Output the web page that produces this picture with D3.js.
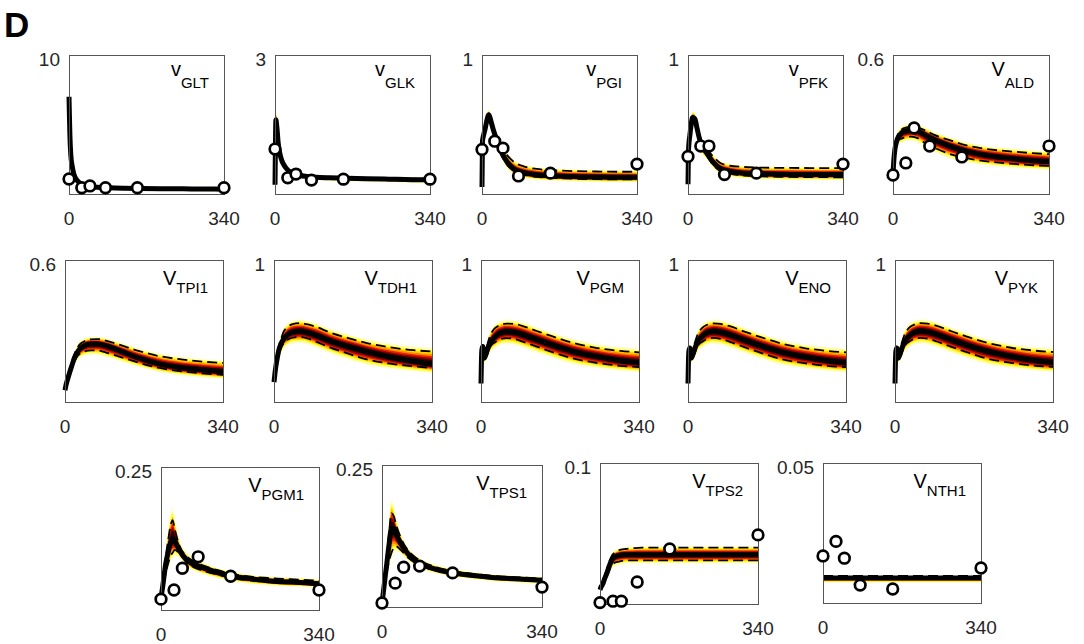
<!DOCTYPE html>
<html><head><meta charset="utf-8">
<script src="https://cdn.jsdelivr.net/npm/d3@7"></script>
<style>body{margin:0;background:#fff}svg{display:block}text{font-family:"Liberation Sans",Arial,sans-serif}</style>
</head><body><svg id="c" width="1084" height="644"></svg>
<script>
// ---------- DATA ----------
const simT = [0,1,2,4,7,10,15,20,25,30,40,55,70,90,120,160,200,250,300,340];
const obsT = [0,28,46,80,150,340];
const xTickLabels = ["0","340"];
const panelNames = ["GLT","GLK","PGI","PFK","ALD","TPI1","TDH1","PGM","ENO","PYK","PGM1","TPS1","TPS2","NTH1"];
const panelPrefix = ["v","v","v","v","V","V","V","V","V","V","V","V","V","V"];
const yTopVals = [10,3,1,1,0.6,0.6,1,1,1,1,0.25,0.25,0.1,0.05];
const yTopLabels = ["10","3","1","1","0.6","0.6","1","1","1","1","0.25","0.25","0.1","0.05"];

// GLT
const medGLT = [7.0,5.5,4.2,2.8,2.0,1.5,1.1,0.9,0.75,0.65,0.55,0.5,0.47,0.45,0.42,0.4,0.38,0.37,0.36,0.35];
const hiGLT  = [7.2,5.8,4.5,3.0,2.2,1.65,1.2,1.0,0.85,0.75,0.65,0.58,0.54,0.5,0.47,0.45,0.43,0.42,0.41,0.4];
const loGLT  = [6.8,5.2,3.9,2.6,1.8,1.35,1.0,0.8,0.65,0.55,0.45,0.4,0.36,0.33,0.3,0.27,0.24,0.22,0.2,0.18];
const dHiGLT = [7.0,5.6,4.3,2.9,2.05,1.55,1.13,0.93,0.78,0.68,0.58,0.52,0.49,0.47,0.44,0.42,0.4,0.39,0.38,0.37];
const dLoGLT = [7.0,5.4,4.1,2.7,1.95,1.45,1.07,0.87,0.72,0.62,0.52,0.47,0.44,0.42,0.39,0.37,0.35,0.34,0.33,0.32];
const obsGLT = [1.08,0.45,0.58,0.45,0.45,0.45];
// GLK
const medGLK = [0.2,1.1,1.6,1.45,1.1,0.9,0.72,0.62,0.55,0.5,0.44,0.4,0.38,0.36,0.35,0.34,0.33,0.32,0.31,0.31];
const hiGLK  = [0.25,1.2,1.77,1.6,1.2,0.98,0.78,0.67,0.6,0.55,0.48,0.44,0.42,0.4,0.38,0.37,0.36,0.35,0.35,0.35];
const loGLK  = [0.15,1.0,1.45,1.3,1.0,0.82,0.65,0.56,0.49,0.44,0.39,0.35,0.33,0.31,0.29,0.28,0.27,0.26,0.25,0.24];
const dHiGLK = [0.2,1.12,1.63,1.48,1.13,0.93,0.75,0.65,0.57,0.52,0.46,0.42,0.4,0.38,0.37,0.36,0.35,0.34,0.33,0.33];
const dLoGLK = [0.2,1.08,1.57,1.42,1.07,0.87,0.69,0.59,0.53,0.48,0.42,0.38,0.36,0.34,0.33,0.32,0.31,0.3,0.29,0.29];
const obsGLK = [0.97,0.35,0.43,0.30,0.32,0.32];
// PGI
const medPGI = [0.05,0.38,0.4,0.43,0.47,0.52,0.57,0.52,0.46,0.41,0.32,0.23,0.18,0.155,0.138,0.13,0.125,0.122,0.12,0.12];
const hiPGI  = [0.06,0.4,0.43,0.47,0.52,0.57,0.6,0.56,0.5,0.45,0.37,0.29,0.24,0.21,0.19,0.18,0.175,0.17,0.168,0.167];
const loPGI  = [0.04,0.35,0.37,0.4,0.43,0.47,0.52,0.47,0.41,0.36,0.28,0.19,0.145,0.12,0.105,0.097,0.093,0.09,0.088,0.087];
const dHiPGI = [0.05,0.38,0.41,0.44,0.49,0.54,0.58,0.54,0.48,0.43,0.35,0.28,0.23,0.2,0.18,0.17,0.165,0.162,0.16,0.16];
const dLoPGI = [0.05,0.37,0.39,0.42,0.46,0.5,0.55,0.5,0.44,0.39,0.3,0.21,0.165,0.14,0.123,0.115,0.11,0.107,0.105,0.105];
const obsPGI = [0.32,0.38,0.33,0.13,0.15,0.215];
// PFK
const medPFK = [0.07,0.3,0.36,0.42,0.5,0.55,0.54,0.47,0.4,0.35,0.3,0.23,0.185,0.165,0.15,0.145,0.142,0.14,0.14,0.14];
const hiPFK  = [0.08,0.33,0.39,0.46,0.54,0.59,0.58,0.52,0.45,0.4,0.35,0.28,0.235,0.215,0.2,0.195,0.193,0.192,0.19,0.19];
const loPFK  = [0.06,0.27,0.33,0.38,0.46,0.5,0.49,0.42,0.35,0.3,0.26,0.19,0.15,0.13,0.117,0.11,0.106,0.104,0.103,0.102];
const dHiPFK = [0.07,0.3,0.37,0.43,0.51,0.56,0.56,0.5,0.43,0.38,0.33,0.27,0.225,0.205,0.195,0.19,0.188,0.187,0.186,0.186];
const dLoPFK = [0.07,0.3,0.35,0.41,0.49,0.54,0.52,0.45,0.38,0.33,0.28,0.21,0.167,0.148,0.133,0.127,0.124,0.122,0.121,0.12];
const obsPFK = [0.27,0.345,0.345,0.14,0.15,0.215];
// ALD
const medALD = [0.09,0.12,0.15,0.19,0.22,0.24,0.255,0.265,0.27,0.272,0.275,0.27,0.255,0.235,0.21,0.185,0.168,0.155,0.145,0.14];
const hiALD  = [0.1,0.135,0.17,0.21,0.245,0.265,0.28,0.29,0.295,0.298,0.3,0.295,0.285,0.265,0.245,0.22,0.205,0.195,0.187,0.182];
const loALD  = [0.08,0.1,0.125,0.165,0.195,0.21,0.222,0.225,0.229,0.232,0.233,0.225,0.205,0.185,0.16,0.14,0.127,0.117,0.11,0.106];
const dHiALD = [0.09,0.125,0.16,0.2,0.235,0.255,0.27,0.28,0.285,0.288,0.29,0.285,0.275,0.255,0.235,0.21,0.195,0.185,0.177,0.172];
const dLoALD = [0.09,0.115,0.14,0.18,0.21,0.225,0.237,0.24,0.244,0.247,0.248,0.24,0.22,0.2,0.175,0.155,0.142,0.132,0.125,0.121];
const obsALD = [0.082,0.134,0.285,0.207,0.16,0.207];
// TPI1
const medTPI1 = [0.05,0.06,0.07,0.085,0.105,0.125,0.155,0.185,0.205,0.22,0.236,0.245,0.245,0.237,0.215,0.185,0.162,0.145,0.135,0.128];
const hiTPI1  = [0.055,0.066,0.078,0.095,0.12,0.142,0.178,0.208,0.232,0.25,0.264,0.273,0.274,0.266,0.248,0.223,0.203,0.188,0.178,0.173];
const loTPI1  = [0.045,0.052,0.06,0.072,0.088,0.105,0.13,0.157,0.174,0.186,0.197,0.203,0.202,0.192,0.174,0.15,0.13,0.115,0.105,0.1];
const dHiTPI1 = [0.05,0.062,0.074,0.09,0.113,0.135,0.17,0.2,0.223,0.24,0.255,0.265,0.266,0.258,0.24,0.215,0.195,0.18,0.17,0.165];
const dLoTPI1 = [0.05,0.058,0.066,0.08,0.098,0.115,0.142,0.17,0.188,0.2,0.212,0.218,0.218,0.208,0.19,0.165,0.145,0.13,0.12,0.115];
// TDH1
const medTDH1 = [0.14,0.17,0.2,0.25,0.31,0.36,0.41,0.44,0.46,0.475,0.492,0.498,0.49,0.47,0.43,0.39,0.355,0.315,0.285,0.265];
const hiTDH1  = [0.15,0.185,0.225,0.28,0.345,0.4,0.46,0.51,0.535,0.55,0.567,0.574,0.567,0.55,0.51,0.47,0.435,0.405,0.385,0.375];
const loTDH1  = [0.13,0.15,0.17,0.21,0.26,0.3,0.345,0.375,0.395,0.405,0.418,0.422,0.414,0.39,0.35,0.305,0.268,0.24,0.222,0.21];
const dHiTDH1 = [0.14,0.175,0.21,0.265,0.33,0.385,0.44,0.49,0.515,0.53,0.548,0.555,0.548,0.53,0.49,0.45,0.415,0.385,0.365,0.356];
const dLoTDH1 = [0.14,0.165,0.19,0.235,0.29,0.335,0.38,0.41,0.43,0.44,0.453,0.457,0.45,0.425,0.385,0.34,0.3,0.27,0.252,0.24];
// PGM
const medPGM = [0.13,0.3,0.37,0.39,0.31,0.33,0.38,0.42,0.44,0.46,0.485,0.497,0.492,0.475,0.44,0.395,0.355,0.32,0.29,0.275];
const hiPGM  = [0.14,0.32,0.39,0.41,0.34,0.37,0.44,0.49,0.52,0.54,0.56,0.572,0.57,0.555,0.52,0.475,0.435,0.4,0.38,0.37];
const loPGM  = [0.12,0.28,0.35,0.37,0.28,0.29,0.32,0.355,0.375,0.385,0.405,0.415,0.41,0.39,0.355,0.31,0.272,0.245,0.225,0.215];
const dHiPGM = [0.13,0.31,0.38,0.4,0.32,0.35,0.42,0.47,0.5,0.52,0.54,0.552,0.55,0.535,0.5,0.455,0.415,0.38,0.36,0.35];
const dLoPGM = [0.13,0.29,0.36,0.38,0.3,0.31,0.35,0.39,0.41,0.42,0.44,0.45,0.445,0.425,0.39,0.345,0.305,0.275,0.255,0.246];
// ENO
const medENO = [0.13,0.29,0.36,0.38,0.31,0.33,0.38,0.42,0.445,0.462,0.487,0.498,0.492,0.474,0.438,0.393,0.353,0.318,0.29,0.274];
const hiENO  = [0.14,0.31,0.38,0.4,0.34,0.37,0.44,0.49,0.52,0.54,0.562,0.573,0.57,0.554,0.518,0.473,0.433,0.4,0.38,0.37];
const loENO  = [0.12,0.27,0.34,0.36,0.28,0.29,0.32,0.355,0.378,0.388,0.407,0.416,0.41,0.39,0.353,0.308,0.27,0.243,0.224,0.214];
const dHiENO = [0.13,0.3,0.37,0.39,0.32,0.35,0.42,0.47,0.5,0.52,0.542,0.553,0.55,0.534,0.498,0.453,0.413,0.38,0.36,0.35];
const dLoENO = [0.13,0.28,0.35,0.37,0.3,0.31,0.35,0.39,0.412,0.422,0.442,0.451,0.445,0.424,0.388,0.343,0.303,0.274,0.254,0.245];
// PYK
const medPYK = [0.13,0.29,0.36,0.38,0.31,0.33,0.38,0.42,0.445,0.463,0.488,0.5,0.494,0.476,0.44,0.395,0.356,0.32,0.292,0.276];
const hiPYK  = [0.14,0.31,0.38,0.4,0.34,0.37,0.44,0.49,0.52,0.542,0.563,0.575,0.572,0.556,0.52,0.475,0.436,0.402,0.382,0.372];
const loPYK  = [0.12,0.27,0.34,0.36,0.28,0.29,0.32,0.355,0.378,0.39,0.408,0.418,0.412,0.392,0.355,0.31,0.272,0.245,0.226,0.216];
const dHiPYK = [0.13,0.3,0.37,0.39,0.32,0.35,0.42,0.47,0.5,0.522,0.543,0.555,0.552,0.536,0.5,0.455,0.416,0.382,0.362,0.352];
const dLoPYK = [0.13,0.28,0.35,0.37,0.3,0.31,0.35,0.39,0.412,0.424,0.443,0.452,0.447,0.426,0.39,0.345,0.305,0.276,0.256,0.247];
// PGM1
const medPGM1 = [0.02,0.026,0.032,0.043,0.062,0.08,0.1,0.116,0.125,0.12,0.104,0.088,0.08,0.074,0.066,0.058,0.054,0.05,0.048,0.046];
const hiPGM1  = [0.022,0.03,0.038,0.053,0.078,0.1,0.135,0.162,0.175,0.155,0.12,0.099,0.089,0.082,0.073,0.065,0.06,0.057,0.055,0.053];
const loPGM1  = [0.018,0.022,0.026,0.033,0.045,0.058,0.072,0.085,0.092,0.097,0.092,0.078,0.07,0.064,0.057,0.05,0.046,0.043,0.041,0.04];
const dHiPGM1 = [0.02,0.027,0.034,0.048,0.07,0.092,0.12,0.145,0.157,0.14,0.112,0.094,0.085,0.078,0.07,0.062,0.058,0.055,0.053,0.051];
const dLoPGM1 = [0.02,0.024,0.028,0.036,0.05,0.064,0.08,0.093,0.1,0.105,0.098,0.083,0.075,0.069,0.062,0.055,0.051,0.048,0.046,0.044];
const obsPGM1 = [0.019,0.035,0.073,0.093,0.059,0.035];
// TPS1
const medTPS1 = [0.007,0.013,0.02,0.034,0.055,0.075,0.11,0.138,0.138,0.128,0.112,0.094,0.082,0.073,0.065,0.059,0.055,0.051,0.049,0.047];
const hiTPS1  = [0.008,0.016,0.025,0.043,0.07,0.1,0.15,0.185,0.175,0.155,0.128,0.104,0.091,0.081,0.072,0.065,0.06,0.056,0.054,0.052];
const loTPS1  = [0.006,0.01,0.015,0.024,0.04,0.053,0.072,0.087,0.097,0.1,0.095,0.083,0.074,0.066,0.059,0.053,0.049,0.045,0.043,0.041];
const dHiTPS1 = [0.007,0.014,0.022,0.038,0.062,0.088,0.13,0.165,0.16,0.145,0.122,0.1,0.088,0.078,0.069,0.062,0.058,0.054,0.052,0.05];
const dLoTPS1 = [0.007,0.012,0.018,0.028,0.045,0.06,0.08,0.095,0.104,0.107,0.1,0.087,0.078,0.07,0.063,0.057,0.053,0.049,0.047,0.045];
const obsTPS1 = [0.007,0.042,0.07,0.072,0.06,0.035];
// TPS2
const medTPS2 = [0.01,0.011,0.012,0.013,0.015,0.018,0.022,0.027,0.031,0.033,0.0345,0.035,0.035,0.035,0.035,0.035,0.035,0.035,0.035,0.035];
const hiTPS2  = [0.011,0.012,0.013,0.015,0.017,0.021,0.026,0.031,0.035,0.037,0.039,0.04,0.0402,0.0405,0.0405,0.0405,0.0405,0.0405,0.0405,0.0405];
const loTPS2  = [0.009,0.01,0.011,0.012,0.013,0.015,0.018,0.022,0.025,0.027,0.028,0.029,0.029,0.029,0.029,0.029,0.029,0.029,0.029,0.029];
const dHiTPS2 = [0.01,0.011,0.012,0.014,0.016,0.02,0.025,0.03,0.034,0.036,0.038,0.039,0.0395,0.04,0.04,0.04,0.04,0.04,0.04,0.04];
const dLoTPS2 = [0.01,0.011,0.012,0.013,0.014,0.017,0.02,0.024,0.027,0.029,0.03,0.031,0.031,0.031,0.031,0.031,0.031,0.031,0.031,0.031];
const obsTPS2 = [0.001,0.002,0.002,0.0156,0.039,0.049];
// NTH1
const medNTH1 = [0.0089,0.0089,0.0089,0.0089,0.0089,0.0089,0.0089,0.0089,0.0089,0.0089,0.0089,0.0089,0.0089,0.0089,0.0089,0.0089,0.0089,0.0089,0.0089,0.0089];
const hiNTH1  = [0.0095,0.0095,0.0095,0.0095,0.0095,0.0095,0.0095,0.0095,0.0095,0.0095,0.0095,0.0095,0.0095,0.0095,0.0095,0.0095,0.0095,0.0095,0.0095,0.0095];
const loNTH1  = [0.0074,0.0074,0.0074,0.0074,0.0074,0.0074,0.0074,0.0074,0.0074,0.0074,0.0074,0.0074,0.0074,0.0074,0.0074,0.0074,0.0074,0.0074,0.0074,0.0074];
const dHiNTH1 = [0.0097,0.0097,0.0097,0.0097,0.0097,0.0097,0.0097,0.0097,0.0097,0.0097,0.0097,0.0097,0.0097,0.0097,0.0097,0.0097,0.0097,0.0097,0.0097,0.0097];
const dLoNTH1 = [0.0085,0.0085,0.0085,0.0085,0.0085,0.0085,0.0085,0.0085,0.0085,0.0085,0.0085,0.0085,0.0085,0.0085,0.0085,0.0085,0.0085,0.0085,0.0085,0.0085];
const obsNTH1 = [0.0168,0.022,0.016,0.0064,0.005,0.0125];

const medians = [medGLT,medGLK,medPGI,medPFK,medALD,medTPI1,medTDH1,medPGM,medENO,medPYK,medPGM1,medTPS1,medTPS2,medNTH1];
const bandHi  = [hiGLT,hiGLK,hiPGI,hiPFK,hiALD,hiTPI1,hiTDH1,hiPGM,hiENO,hiPYK,hiPGM1,hiTPS1,hiTPS2,hiNTH1];
const bandLo  = [loGLT,loGLK,loPGI,loPFK,loALD,loTPI1,loTDH1,loPGM,loENO,loPYK,loPGM1,loTPS1,loTPS2,loNTH1];
const dashHi  = [dHiGLT,dHiGLK,dHiPGI,dHiPFK,dHiALD,dHiTPI1,dHiTDH1,dHiPGM,dHiENO,dHiPYK,dHiPGM1,dHiTPS1,dHiTPS2,dHiNTH1];
const dashLo  = [dLoGLT,dLoGLK,dLoPGI,dLoPFK,dLoALD,dLoTPI1,dLoTDH1,dLoPGM,dLoENO,dLoPYK,dLoPGM1,dLoTPS1,dLoTPS2,dLoNTH1];
const observed = [obsGLT,obsGLK,obsPGI,obsPFK,obsALD,null,null,null,null,null,obsPGM1,obsTPS1,obsTPS2,obsNTH1];

// ---------- LAYOUT ----------
const layout = [
  [69,55,155,139],[275,55,155,139],[482,55,155,139],[688,55,155,139],[893,55,156,139],
  [65,260,158,142],[274,260,158,142],[481,260,158,142],[688,260,158,142],[895,260,158,142],
  [161,467,158,143],[382,465,160,142],[600,463,158,141],[823,463,158,140]
];
const layers = [[1.12,"#fffde6"],[1.0,"#ffffa0"],[0.88,"#ffff30"],[0.76,"#ffd000"],[0.64,"#ff8a00"],[0.52,"#e82000"],[0.4,"#9a0000"],[0.28,"#2a0000"]];

const svg = d3.select("#c");
svg.append("rect").attr("width",1084).attr("height",644).attr("fill","#fff");
svg.append("text").attr("x",4).attr("y",37).attr("font-size",35).attr("font-weight","bold").attr("fill","#000").text("D");

panelNames.forEach((name,i)=>{
  const [L,T,W,H] = layout[i];
  const x = d3.scaleLinear().domain([0,340]).range([L,L+W]);
  const y = d3.scaleLinear().domain([0,yTopVals[i]]).range([T+H,T]);
  const g = svg.append("g");
  const cid = "clip"+i;
  svg.append("clipPath").attr("id",cid).append("rect").attr("x",L).attr("y",T).attr("width",W).attr("height",H);
  const med = medians[i], hi = bandHi[i], lo = bandLo[i];
  const bands = g.append("g").attr("clip-path",`url(#${cid})`);
  layers.forEach(([f,col])=>{
    const area = d3.area()
      .x((d,k)=>x(simT[k]))
      .y0((d,k)=>y(med[k]-f*(med[k]-lo[k])))
      .y1((d,k)=>y(med[k]+f*(hi[k]-med[k])))
      .curve(d3.curveMonotoneX);
    bands.append("path").attr("d",area(med)).attr("fill",col).attr("stroke","none");
  });
  const line = d3.line().x((d,k)=>x(simT[k])).y(d=>y(d)).curve(d3.curveMonotoneX);
  bands.append("path").attr("d",line(dashHi[i])).attr("fill","none").attr("stroke","#000").attr("stroke-width",1.8).attr("stroke-dasharray","10,5");
  bands.append("path").attr("d",line(dashLo[i])).attr("fill","none").attr("stroke","#000").attr("stroke-width",1.8).attr("stroke-dasharray","10,5");
  g.append("path").attr("d",line(med)).attr("fill","none").attr("stroke","#000").attr("stroke-width",5).attr("stroke-linejoin","round");
  g.append("rect").attr("x",L+0.5).attr("y",T+0.5).attr("width",W).attr("height",H)
    .attr("fill","none").attr("stroke","#555").attr("stroke-width",1);
  // tick labels
  g.append("text").attr("x",L-9).attr("y",T+11).attr("text-anchor","end").attr("font-size",19).attr("fill","#262626").text(yTopLabels[i]);
  g.append("text").attr("x",x(0)).attr("y",T+H+31).attr("text-anchor","middle").attr("font-size",19).attr("fill","#262626").text(xTickLabels[0]);
  g.append("text").attr("x",x(340)).attr("y",T+H+31).attr("text-anchor","middle").attr("font-size",19).attr("fill","#262626").text(xTickLabels[1]);
  // title
  const row1 = i<5;
  const t = g.append("text").attr("x",L+W-15).attr("y",T+(row1?21:25)).attr("text-anchor","end").attr("fill","#000");
  t.append("tspan").attr("font-size",20).text(panelPrefix[i]);
  t.append("tspan").attr("font-size",15).attr("dy",(row1?12:8)).text(name);
  // observed points
  if(observed[i]){
    g.selectAll(null).data(observed[i]).enter().append("circle")
      .attr("cx",(d,k)=>x(obsT[k])).attr("cy",d=>y(d)).attr("r",5.3)
      .attr("fill","#fff").attr("stroke","#000").attr("stroke-width",2.7);
  }
});
</script></body></html>
